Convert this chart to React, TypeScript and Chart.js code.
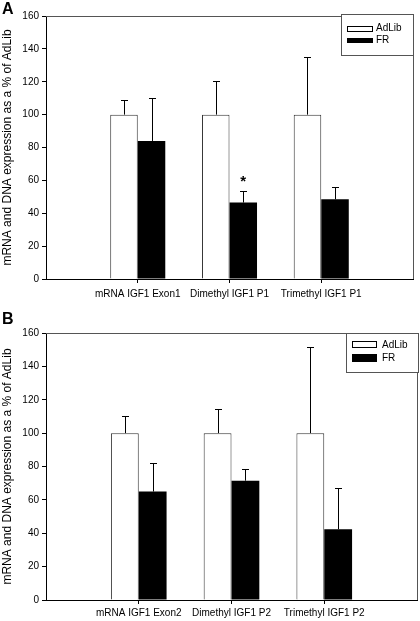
import React, { useEffect, useRef } from "react";
import { Chart, registerables } from "chart.js";

Chart.register(...registerables);

// ---- data ----
const categoriesA = ["mRNA IGF1 Exon1", "Dimethyl IGF1 P1", "Trimethyl IGF1 P1"];
const categoriesB = ["mRNA IGF1 Exon2", "Dimethyl IGF1 P2", "Trimethyl IGF1 P2"];
const seriesNames = ["AdLib", "FR"];
const adLibA = [100, 100, 100];
const adLibErrA = [9, 20.5, 35];
const frA = [84, 46.5, 48.5];
const frErrA = [26, 7.2, 7.3];
const starsA = [false, true, false];
const adLibB = [100, 100, 100];
const adLibErrB = [10, 14.3, 51.4];
const frB = [65, 71.5, 42.4];
const frErrB = [17, 7.2, 25];
const starsB = [false, false, false];
const yMin = 0;
const yMax = 160;
const yStep = 20;
const yTitle = "mRNA and DNA expression as a % of AdLib";

const FONT = "'Liberation Sans', Arial, Helvetica, sans-serif";

type LegendGeom = { x: number; y: number; w: number; h: number; rx: number; rw: number; r1y: number; r1h: number; r2y: number; r2h: number; tx: number; t1y: number; t2y: number };

type PanelProps = {
  letter: string;
  categories: string[];
  adLib: number[];
  adLibErr: number[];
  fr: number[];
  frErr: number[];
  stars: boolean[];
  height: number;
  padTop: number;
  padRight: number;
  xAxisHeight: number;
  xTickPad: number;
  legend: LegendGeom;
};

function Panel(p: PanelProps) {
  const ref = useRef<HTMLCanvasElement | null>(null);
  useEffect(() => {
    if (!ref.current) return;
    const labels = ["", ...p.categories, ""];
    const wrap = (arr: number[]) => [null, ...arr, null];
    const errs = [wrap(p.adLibErr), wrap(p.frErr)];

    const overlay = {
      id: "overlay" + p.letter,
      afterDatasetsDraw(chart: any) {
        const ctx = chart.ctx;
        const ca = chart.chartArea;
        const ys = chart.scales.y;
        ctx.save();
        // frame top & right
        ctx.strokeStyle = "#555";
        ctx.lineWidth = 1;
        ctx.beginPath();
        ctx.moveTo(ca.left, Math.round(ca.top) + 0.5);
        ctx.lineTo(Math.round(ca.right) + 0.5, Math.round(ca.top) + 0.5);
        ctx.lineTo(Math.round(ca.right) + 0.5, ca.bottom);
        ctx.stroke();
        // error bars
        ctx.strokeStyle = "#000";
        for (let di = 0; di < 2; di++) {
          const meta = chart.getDatasetMeta(di);
          const vals = chart.data.datasets[di].data;
          meta.data.forEach((el: any, i: number) => {
            const v = vals[i];
            const e = errs[di][i];
            if (v == null || e == null) return;
            const x = Math.round(el.x) + 0.5;
            const y0 = ys.getPixelForValue(v);
            const y1 = Math.round(ys.getPixelForValue(v + e)) + 0.5;
            ctx.beginPath();
            ctx.moveTo(x, y0);
            ctx.lineTo(x, y1);
            ctx.moveTo(x - 3.5, y1);
            ctx.lineTo(x + 3.5, y1);
            ctx.stroke();
          });
        }
        // significance stars
        const frMeta = chart.getDatasetMeta(1);
        p.stars.forEach((s, i) => {
          if (!s) return;
          const el = frMeta.data[i + 1];
          const v = p.fr[i] + p.frErr[i];
          const y = ys.getPixelForValue(v) - 12;
          ctx.fillStyle = "#000";
          ctx.font = `bold 15px ${FONT}`;
          ctx.textAlign = "center";
          ctx.textBaseline = "middle";
          ctx.fillText("*", el.x, y + 3);
        });
        // legend
        const L = p.legend;
        ctx.fillStyle = "#fff";
        ctx.fillRect(L.x, L.y, L.w, L.h);
        ctx.strokeStyle = "#555";
        ctx.strokeRect(L.x + 0.5, L.y + 0.5, L.w, L.h);
        ctx.strokeStyle = "#000";
        ctx.strokeRect(L.rx + 0.5, L.r1y + 0.5, L.rw, L.r1h);
        ctx.fillStyle = "#000";
        ctx.fillRect(L.rx, L.r2y, L.rw + 1, L.r2h);
        ctx.font = `10px ${FONT}`;
        ctx.textAlign = "left";
        ctx.textBaseline = "middle";
        ctx.fillText(seriesNames[0], L.tx, L.t1y);
        ctx.fillText(seriesNames[1], L.tx, L.t2y);
        // panel letter
        ctx.font = `bold 16px ${FONT}`;
        ctx.textBaseline = "alphabetic";
        ctx.fillText(p.letter, 2, 13.5);
        ctx.restore();
      },
    };

    const chart = new Chart(ref.current, {
      type: "bar",
      data: {
        labels,
        datasets: [
          {
            label: seriesNames[0],
            data: wrap(p.adLib) as any,
            backgroundColor: "#fff",
            borderColor: "#333",
            borderWidth: 1,
            borderSkipped: "bottom",
            barPercentage: 1,
            categoryPercentage: 0.6,
          },
          {
            label: seriesNames[1],
            data: wrap(p.fr) as any,
            backgroundColor: "#000",
            borderColor: "#000",
            borderWidth: 0,
            barPercentage: 1,
            categoryPercentage: 0.6,
          },
        ],
      },
      options: {
        animation: false,
        responsive: false,
        devicePixelRatio: 1,
        layout: { padding: { top: p.padTop, right: p.padRight, left: 0, bottom: 0 } },
        plugins: { legend: { display: false }, tooltip: { enabled: false } },
        scales: {
          x: {
            offset: false,
            grid: {
              display: true,
              offset: false,
              drawOnChartArea: false,
              drawTicks: true,
              tickLength: 4,
              color: (c: any) => (c.index === 0 || c.index === labels.length - 1 ? "rgba(0,0,0,0)" : "#000"),
            },
            border: { display: true, color: "#000", width: 1 },
            ticks: {
              autoSkip: false,
              maxRotation: 0,
              minRotation: 0,
              padding: p.xTickPad,
              color: "#000",
              font: { family: FONT, size: 10 },
            },
            afterFit: (s: any) => {
              s.height = p.xAxisHeight;
            },
          },
          y: {
            min: yMin,
            max: yMax,
            grid: { display: true, drawOnChartArea: false, drawTicks: true, tickLength: 4, color: "#000" },
            border: { display: true, color: "#000", width: 1 },
            ticks: { stepSize: yStep, padding: 3, color: "#000", font: { family: FONT, size: 10 } },
            title: {
              display: true,
              text: yTitle,
              color: "#000",
              padding: { top: 0, bottom: 0 },
              font: { family: FONT, size: 12 },
            },
            afterFit: (s: any) => {
              s.width = 46;
            },
          },
        },
      },
      plugins: [overlay],
    });
    return () => chart.destroy();
  }, []);
  return <canvas ref={ref} width={420} height={p.height} style={{ display: "block", width: 420, height: p.height }} />;
}

export default function App() {
  return (
    <div style={{ position: "absolute", left: 0, top: 0, width: 420, height: 621, background: "#fff" }}>
      <Panel
        letter="A"
        categories={categoriesA}
        adLib={adLibA}
        adLibErr={adLibErrA}
        fr={frA}
        frErr={frErrA}
        stars={starsA}
        height={310}
        padTop={16}
        padRight={7}
        xAxisHeight={31}
        xTickPad={5}
        legend={{ x: 341, y: 14, w: 72, h: 41, rx: 347, rw: 25, r1y: 26, r1h: 5, r2y: 38, r2h: 5, tx: 376, t1y: 28.5, t2y: 40.5 }}
      />
      <Panel
        letter="B"
        categories={categoriesB}
        adLib={adLibB}
        adLibErr={adLibErrB}
        fr={frB}
        frErr={frErrB}
        stars={starsB}
        height={311}
        padTop={23}
        padRight={2}
        xAxisHeight={21}
        xTickPad={3}
        legend={{ x: 346, y: 23, w: 72, h: 39, rx: 352, rw: 24, r1y: 31, r1h: 6, r2y: 44, r2h: 8, tx: 382, t1y: 35, t2y: 48.5 }}
      />
    </div>
  );
}
